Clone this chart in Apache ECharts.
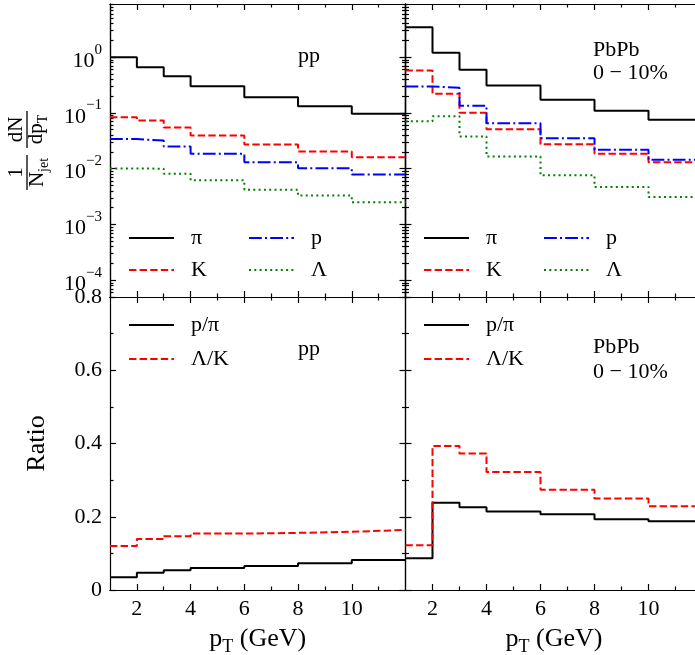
<!DOCTYPE html>
<html>
<head>
<meta charset="utf-8">
<script src="https://cdn.jsdelivr.net/npm/echarts@6/dist/echarts.min.js"></script>
<style>
    html, body { margin: 0; padding: 0; background: #fff; }
    #chart { width: 695px; height: 655px; }
</style>
</head>
<body>
<div id="chart"></div>
<script>
// bin edges in pT (GeV), 7 bins
const edges = [1, 2, 3, 4, 6, 8, 10, 12];

// spectra, pp
const ppPi = [1.0, 0.66, 0.457, 0.30, 0.192, 0.132, 0.097];
const ppK = [0.084, 0.073, 0.055, 0.0395, 0.0272, 0.0204, 0.016];
const ppP = [0.034, 0.032, 0.025, 0.0186, 0.013, 0.0102, 0.0079];
const ppLam = [0.0101, 0.0100, 0.0081, 0.0062, 0.0042, 0.0033, 0.0025];

// spectra, PbPb 0-10%
const pbPi = [3.45, 1.2, 0.594, 0.311, 0.172, 0.109, 0.0755];
const pbK = [0.578, 0.221, 0.101, 0.051, 0.0275, 0.0186, 0.0131];
const pbP = [0.298, 0.283, 0.135, 0.0657, 0.0353, 0.0219, 0.0145];
const pbLam = [0.0713, 0.0877, 0.038, 0.0166, 0.0076, 0.0047, 0.0031];

// ratios
const ppPPi = [0.0346, 0.047, 0.054, 0.060, 0.0655, 0.073, 0.082];
const ppLamK = [0.120, 0.139, 0.147, 0.154, 0.156, 0.159, 0.164];
const pbPPi = [0.0865, 0.238, 0.226, 0.214, 0.207, 0.193, 0.1875];
const pbLamK = [0.122, 0.393, 0.373, 0.322, 0.274, 0.250, 0.229];

// ticks
const xTicks = [2, 4, 6, 8, 10];
const xMinor = [3, 5, 7, 9, 11];
const logTicks = [1e-4, 1e-3, 1e-2, 1e-1, 1];
const logMinor = [];
for (let d = -5; d <= 0; d++) {
    for (let m = 2; m <= 9; m++) logMinor.push(m * Math.pow(10, d));
}

const font = 'Liberation Serif';
const black = '#000';

const supRich = {
    b: { fontFamily: font, fontSize: 22, color: black, lineHeight: 30, verticalAlign: 'bottom' },
    s: { fontFamily: font, fontSize: 15, color: black, lineHeight: 15, verticalAlign: 'top' }
};
const subRich = {
    m: { fontFamily: font, fontSize: 26, color: black, lineHeight: 30, verticalAlign: 'top' },
    t: { fontFamily: font, fontSize: 18, color: black, lineHeight: 13, verticalAlign: 'bottom' }
};

function axLine() {
    return { show: true, onZero: false, lineStyle: { color: black, width: 1.2 } };
}

function xAx(grid, pos, ticks, len, labels, name) {
    let a = {
        type: 'value', gridIndex: grid, position: pos, min: 1, max: 12,
        axisLine: axLine(),
        axisTick: { show: true, inside: true, length: len, customValues: ticks, lineStyle: { color: black, width: 1.2 } },
        axisLabel: labels ? { show: true, customValues: xTicks, color: black, fontFamily: font, fontSize: 22, margin: 8 } : { show: false },
        splitLine: { show: false }
    };
    if (name) {
        a.name = name;
        a.nameLocation = 'middle';
        a.nameGap = 36;
        a.nameTextStyle = { rich: subRich };
    }
    return a;
}

function yLog(grid, pos, ticks, len, labels) {
    return {
        type: 'log', gridIndex: grid, position: pos, min: 5e-5, max: 9,
        axisLine: axLine(),
        axisTick: { show: true, inside: true, length: len, customValues: ticks, lineStyle: { color: black, width: 1.2 } },
        axisLabel: labels ? {
            show: true, customValues: logTicks, margin: 8,
            formatter: function (v) {
                let e = Math.round(Math.log10(v));
                return '{b|10}{s|' + (e < 0 ? '\u2212' + (-e) : e) + '}';
            },
            rich: supRich
        } : { show: false },
        splitLine: { show: false }
    };
}

function yLin(grid, pos, labels, name) {
    let a = {
        type: 'value', gridIndex: grid, position: pos, min: 0, max: 0.8, interval: 0.2,
        axisLine: axLine(),
        axisTick: { show: true, inside: true, length: 6, lineStyle: { color: black, width: 1.2 } },
        minorTick: { show: true, splitNumber: 2, length: 3.5, lineStyle: { color: black, width: 1.2 } },
        axisLabel: labels ? { show: true, color: black, fontFamily: font, fontSize: 22, margin: 8 } : { show: false },
        splitLine: { show: false }
    };
    if (name) {
        a.name = name;
        a.nameLocation = 'middle';
        a.nameGap = 60;
        a.nameTextStyle = { color: black, fontFamily: font, fontSize: 26 };
    }
    return a;
}

const grids = [
    { left: 110, top: 4, width: 295.5, height: 293, outerBoundsMode: 'none' },
    { left: 405.5, top: 4, width: 297, height: 293, outerBoundsMode: 'none' },
    { left: 110, top: 297, width: 295.5, height: 293, outerBoundsMode: 'none' },
    { left: 405.5, top: 297, width: 297, height: 293, outerBoundsMode: 'none' }
];

const xAxes = [];
for (let g = 0; g < 4; g++) {
    let bottomRow = g >= 2;
    xAxes.push(xAx(g, 'bottom', xTicks, 6, bottomRow, bottomRow ? '{m|p}{t|T}{m| (GeV)}' : ''));
    xAxes.push(xAx(g, 'bottom', xMinor, 3.5, false));
    xAxes.push(xAx(g, 'top', xTicks, 6, false));
    xAxes.push(xAx(g, 'top', xMinor, 3.5, false));
}

const yAxes = [
    yLog(0, 'left', logTicks, 6, true), yLog(0, 'left', logMinor, 3.5, false),
    yLog(0, 'right', logTicks, 6, false), yLog(0, 'right', logMinor, 3.5, false),
    yLog(1, 'left', logTicks, 6, false), yLog(1, 'left', logMinor, 3.5, false),
    yLog(1, 'right', logTicks, 6, false), yLog(1, 'right', logMinor, 3.5, false),
    yLin(2, 'left', true, 'Ratio'), yLin(2, 'right', false),
    yLin(3, 'left', false), yLin(3, 'right', false)
];
const yMain = [0, 4, 8, 10];

function steps(vals) {
    let pts = vals.map((v, i) => [edges[i], v]);
    pts.push([edges[edges.length - 1], vals[vals.length - 1]]);
    return pts;
}

const solid = 'solid';
const dashed = [7.4, 3.2];
const dashdot = [12.8, 3.2, 2, 3.2];
const dotted = [2, 3.3];

function ser(name, vals, g, color, type) {
    return {
        type: 'line', name: name, step: 'end', data: steps(vals),
        xAxisIndex: g * 4, yAxisIndex: yMain[g],
        symbol: 'none', showSymbol: false, animation: false,
        lineStyle: { color: color, width: 2, type: type },
        itemStyle: { color: color }
    };
}

const series = [
    ser('π', ppPi, 0, black, solid),
    ser('K', ppK, 0, '#ff0000', dashed),
    ser('p', ppP, 0, '#0000ff', dashdot),
    ser('Λ', ppLam, 0, '#008000', dotted),
    ser('π', pbPi, 1, black, solid),
    ser('K', pbK, 1, '#ff0000', dashed),
    ser('p', pbP, 1, '#0000ff', dashdot),
    ser('Λ', pbLam, 1, '#008000', dotted),
    ser('p/π', ppPPi, 2, black, solid),
    ser('Λ/K', ppLamK, 2, '#ff0000', dashed),
    ser('p/π', pbPPi, 3, black, solid),
    ser('Λ/K', pbLamK, 3, '#ff0000', dashed)
];

function leg(names, left, top, orient) {
    return {
        data: names, left: left, top: top, orient: orient, width: 230, padding: 0,
        itemWidth: 45, itemHeight: 20, itemGap: orient === 'vertical' ? 12 : 10,
        selectedMode: false,
        itemStyle: { opacity: 0 },
        textStyle: { fontFamily: font, fontSize: 22, color: black, lineHeight: 20, width: 47, padding: [0, 0, 0, 12] }
    };
}

const txt = (s, x, y) => ({
    type: 'text', x: x, y: y,
    style: { text: s, fill: black, font: '22px "Liberation Serif"', verticalAlign: 'middle' }
});

const rot = (s, x, y, rich) => ({
    type: 'text', x: x, y: y, rotation: Math.PI / 2,
    style: { text: s, fill: black, font: '21px "Liberation Serif"', align: 'center', verticalAlign: 'middle', rich: rich }
});

const ytitle = {
    m: { fontFamily: font, fontSize: 21, color: black, lineHeight: 24, verticalAlign: 'top' },
    t: { fontFamily: font, fontSize: 14, color: black, lineHeight: 10, verticalAlign: 'bottom' }
};

const option = {
    backgroundColor: '#fff',
    animation: false,
    grid: grids,
    xAxis: xAxes,
    yAxis: yAxes,
    legend: [
        leg(['π', 'p', 'K', 'Λ'], 128, 227, 'horizontal'),
        leg(['π', 'p', 'K', 'Λ'], 423, 227, 'horizontal'),
        leg(['p/π', 'Λ/K'], 128, 314, 'vertical'),
        leg(['p/π', 'Λ/K'], 423, 314, 'vertical')
    ],
    graphic: [
        txt('pp', 298, 56),
        txt('PbPb', 593, 50),
        txt('0 \u2212 10%', 593, 73),
        txt('pp', 298, 349),
        txt('PbPb', 593, 347),
        txt('0 \u2212 10%', 593, 372),
        rot('dN', 16, 129.5),
        rot('{m|dp}{t|T}', 38, 129.5, ytitle),
        rot('1', 16, 172.5),
        rot('{m|N}{t|jet}', 39, 172.5, ytitle),
        { type: 'line', shape: { x1: 27, y1: 111, x2: 27, y2: 148 }, style: { stroke: black, lineWidth: 1.3 } },
        { type: 'line', shape: { x1: 27, y1: 155, x2: 27, y2: 190 }, style: { stroke: black, lineWidth: 1.3 } }
    ],
    series: series
};

let chart = echarts.init(document.getElementById('chart'), null, { renderer: 'canvas' });
chart.setOption(option);
</script>
</body>
</html>
